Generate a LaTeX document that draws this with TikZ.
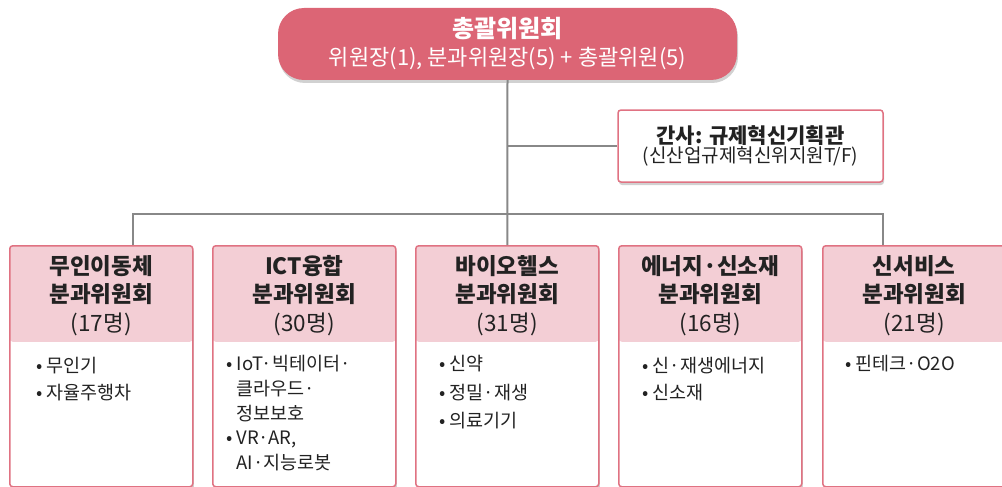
\documentclass[tikz,border=0pt]{standalone}
\usepackage{fontspec}
\setmainfont{Noto Sans CJK KR}
\usetikzlibrary{shadows,calc}
\definecolor{topfill}{HTML}{DC6575}
\definecolor{bordc}{HTML}{E07282}
\definecolor{hdrc}{HTML}{F3CED5}
\definecolor{connc}{HTML}{888888}
\definecolor{txtc}{HTML}{222222}
\begin{document}
\begin{tikzpicture}[x=1pt,y=-1pt,
  conn/.style={draw=connc, line width=2pt},
  softshadow/.style={drop shadow={shadow xshift=1pt, shadow yshift=-3pt, opacity=0.18, fill=black}},
  topbox/.style={fill=topfill, rounded corners=26pt, minimum width=459pt, minimum height=72pt,
    inner sep=0pt, softshadow},
  toptext/.style={text=white, inner sep=0pt, anchor=base},
  ganbox/.style={draw=bordc, line width=1.5pt, fill=white, rounded corners=3pt,
    minimum width=265pt, minimum height=72pt, inner sep=0pt, align=center, text=txtc, softshadow},
  committee/.style={draw=bordc, line width=1.5pt, fill=white, rounded corners=3pt,
    minimum width=183pt, minimum height=241pt, anchor=north west, inner sep=0pt, softshadow,
    path picture={\fill[hdrc] (path picture bounding box.north west) rectangle
      ([yshift=-96pt]path picture bounding box.north east);}},
  ctitle/.style={align=center, text=txtc, inner sep=0pt,
    font=\bfseries\fontsize{22.5}{28.5}\selectfont},
  items/.style={align=left, text=txtc, inner sep=0pt, anchor=north west,
    font=\fontsize{18.5}{26.5}\selectfont},
]
\useasboundingbox (0,0) rectangle (1002,487);

% top committee
\node[topbox] (top) at (507.5,44) {};
\node[toptext, font=\bfseries\fontsize{24}{28}\selectfont] (toptitle) at (507.5,38) {총괄위원회};
\node[toptext, font=\fontsize{22}{26}\selectfont] (topsub) at (507.5,66) {위원장(1), 분과위원장(5) + 총괄위원(5)};

% secretary
\node[ganbox] (gan) at (750.5,146)
  {{\bfseries\fontsize{21}{24}\selectfont 간사: 규제혁신기획관}\\
   {\fontsize{19}{24}\selectfont (신산업규제혁신위지원T/F)}};

% sub-committees
\node[committee] (b1) at (9,245) {};
\node[committee] (b2) at (212,245) {};
\node[committee] (b3) at (415,245) {};
\node[committee] (b4) at (618,245) {};
\node[committee] (b5) at (822,245) {};

% connectors
\coordinate (hub) at (507.5,214);
\draw[conn] (top.south) -- (b3.north);
\draw[conn] (top.south |- gan.west) -- (gan.west);
\draw[conn] ([xshift=31.5pt]b1.north) |- (hub) -| ([xshift=-31.5pt]b5.north);

% headers
\node[ctitle] (t1) at ([yshift=-50.5pt]b1.north) {무인이동체\\분과위원회\\\mdseries(17명)};
\node[ctitle] (t2) at ([yshift=-50.5pt]b2.north) {ICT융합\\분과위원회\\\mdseries(30명)};
\node[ctitle] (t3) at ([yshift=-50.5pt]b3.north) {바이오헬스\\분과위원회\\\mdseries(31명)};
\node[ctitle] (t4) at ([yshift=-50.5pt]b4.north) {에너지·신소재\\분과위원회\\\mdseries(16명)};
\node[ctitle] (t5) at ([yshift=-50.5pt]b5.north) {신서비스\\분과위원회\\\mdseries(21명)};

% items
\node[items] (l1) at ([xshift=27pt,yshift=-112pt]b1.north west) {• 무인기\\• 자율주행차};
\node[items, font=\fontsize{18.5}{24.8}\selectfont] (l2) at ([xshift=14pt,yshift=-110pt]b2.north west)
  {• IoT·빅테이터·\\\hphantom{• }클라우드·\\\hphantom{• }정보보호\\• VR·AR,\\\hphantom{• }AI·지능로봇};
\node[items, font=\fontsize{18.5}{28.5}\selectfont] (l3) at ([xshift=24pt,yshift=-110pt]b3.north west)
  {• 신약\\• 정밀·재생\\• 의료기기};
\node[items] (l4) at ([xshift=24pt,yshift=-112pt]b4.north west) {• 신·재생에너지\\• 신소재};
\node[items] (l5) at ([xshift=23pt,yshift=-110pt]b5.north west) {• 핀테크·O2O};
\end{tikzpicture}
\end{document}
